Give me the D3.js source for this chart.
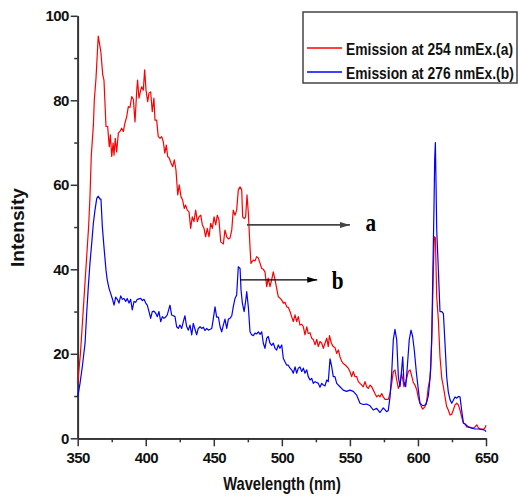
<!DOCTYPE html>
<html>
<head>
<meta charset="utf-8">
<script src="https://cdn.jsdelivr.net/npm/d3@7/dist/d3.min.js"></script>
<style>
  body { margin: 0; background: #fff; }
  text { font-family: "Liberation Sans", Arial, sans-serif; font-weight: bold; }
</style>
</head>
<body>
<svg id="chart" width="519" height="498"></svg>
<script>
// ===== data =====
const redWavelength = [350,352,354,356,358,359,360,361.5,362.2,363.4,365.1,367,368.4,369.3,370.8,372,373.2,374,375,376,376.7,377.6,378.6,379.9,381,382.3,383.5,384.7,386,387.2,388.4,389.7,390.9,392.1,393.4,394,395,396.3,397,398.2,399.2,400.2,401.4,402.4,403.6,404.8,406,406.8,408,409.2,410.5,411.7,412.9,414,415.1,416.1,417.3,418.6,419.8,421,422.2,423.5,424.6,425.9,427.1,428.3,429.3,430.5,431.8,433,434.2,435.4,436.7,437.9,439.1,440.4,441.6,442.8,444,445.2,446.5,447.7,448.9,450.2,451.4,452.6,453.8,455.1,456.2,457,458.2,459.5,460.7,461.9,463.2,464.3,465.6,466.8,468,469.3,470.5,471.2,472.4,473.4,474.4,475.4,476.6,477.3,479,480.3,481.5,482.7,484,485.2,486.4,487.6,488.9,490,491.3,492.5,493.7,495,496.2,497.4,498.6,499.9,501.1,502.3,503.6,504.7,506,507.2,508.4,509.7,510.9,512.1,513.3,514.6,515.8,517,518.3,519.4,520.7,521.9,523.1,524.4,525.6,526.8,528,529.3,530.5,531.7,533,534.1,535,536.4,537.8,539,540.3,541.5,542.7,544,545.1,546.4,547.6,548.8,550,551.3,552.5,553.7,555,556.2,557.4,558.7,559.8,561.1,562.3,563.5,564.8,566,567.2,568.4,569.7,570.9,572.1,573.4,574.5,575.8,577,578.2,579.5,580.7,581.9,583.1,584.4,585.6,586.8,588,588.8,589.7,591.2,592.9,594.2,595.4,596.6,597.8,599.1,600.3,601.5,602.5,603.5,605.2,606.4,607.6,608.9,610.1,611.3,612,612.8,613.8,615,616.2,617.5,618.7,619.9,621.1,622.3,623.6,624.8,626,627.2,628.5,629.7,630.9,632.1,633.4,634.6,635.8,638.3,640.7,641.9,643.2,644.4,645.6,646.9,648,649.3,650];
const redIntensity = [13,20,30,40,50,57,67,74,80,85,95.2,91.5,86,84.8,73.8,73.8,69,71.8,66.7,69.9,67,71,67.8,72.3,72.6,73.4,72.6,74.6,76.1,78.5,78.3,80.9,80.2,74.9,82.4,84.8,80.5,82.4,83.2,82.4,87.2,82.4,79.7,81.7,82,77.3,80.5,75.3,75.3,71.4,71,71.4,70.2,67.5,69.4,66.7,66.3,65.1,64.3,65.9,63.5,57.6,60,57.2,56.4,54.4,55.2,54,53.6,49.7,52.4,51.3,54,51.3,52.4,52.8,50.5,49.7,47.7,49.7,47.7,50.9,49.7,52.4,50.5,52.8,51.7,46.5,46.2,46,49.3,47.7,47.2,47.4,49.3,54,52.8,54,58.8,59.5,58.8,52.4,52,52.4,57.6,53.2,45.3,41.4,42.2,42,43,42.7,41.4,40.2,40,39.4,35.9,37.9,35.9,37.5,39.4,37.5,35.5,33.5,33.2,32.7,32,32.2,31.1,31,30,28.8,27.6,29.2,27.6,28.8,26.8,27,26.4,24.5,26.4,24.8,25,23.7,23.4,22.1,23.4,21.7,22.9,22.5,21.3,22.5,23.7,21.7,24.3,22.5,21.7,21.5,20.1,20.9,19.3,18.2,17.7,17.4,17,16.6,15.8,14.6,15.8,14.6,14.6,13.4,13,12.6,12.2,13.4,12.2,11.8,12.6,12.2,11.4,10.6,9.8,10.2,9.8,10.6,9.8,9.2,9.2,9.2,10.6,13,15.8,16.2,13.8,11.8,12.8,15.4,14,12.2,13.5,15.8,16.2,14.8,13.2,12.6,11.5,9.5,8.3,7.5,6.9,7.5,8.7,12.2,14.2,22.5,39.8,47.7,47.5,33.5,28,19.3,14.2,12.2,9.8,7.5,6.7,5.5,5.7,6.7,7.9,8.3,7.9,6.7,5.1,3.6,3.4,2.7,2.6,2.4,2.7,3.2,2.5,2.2,2.2,2.1,2.5,3.1];

const blueWavelength = [350,351.7,353.4,355.4,356.6,357.8,359,360.3,361.5,362.7,364,365.1,366.4,367.1,368.1,369.3,370.8,371.7,373,374.2,375.4,376.7,377.9,379.1,380.3,381.6,382.8,384,385.3,386.4,387.7,388.9,390.1,391.4,392.6,393.8,395,396.3,397.5,398.7,400,401.1,402.4,403.6,404.8,406,407.3,408.5,409.7,411,412.2,413.4,414.6,415.8,417.8,419,420.3,421.5,422.7,423.9,425.1,426.4,427.6,428.8,430,431.3,432.5,433.8,434.9,436.2,437.4,438.6,439.9,441.1,442.3,443.5,444.8,446,447.3,448.5,449.6,450.9,452.1,453.4,454.6,455.8,457,458.2,459.5,460.7,461.9,463.2,464.3,465.6,466.8,468,469.3,470,471,472.3,473.5,474.2,475.4,476.6,477.8,479,480.3,481.5,482.7,484,485.2,486.4,487.6,488.9,490,491.3,492.5,493.7,495,496.2,497.4,498.6,499.9,501.1,502.3,503.6,504.7,506,507.2,508.4,509.7,510.9,512.1,513.3,514.6,515.8,517,518.3,519.4,520.7,521.9,523.1,524.4,525.6,526.8,528,529.3,530.5,531.7,533,534.1,535.4,536.6,537.8,539,540.3,542.7,545.1,547.6,550,552.5,555,557.4,559.8,562.3,564.8,567.2,569.7,572.1,574.5,577,578.2,579.5,580.7,581.9,583.1,584.4,585.6,586.8,588,588.8,589.7,591,592.2,593.6,594.9,596.1,597.3,598.9,600.3,601.5,602.8,604,605.9,607.6,608.3,609.4,610.2,611,611.8,612.3,612.8,613.3,613.8,615,616.2,617.5,618.7,620,621.1,622.3,623.6,624.8,626,627.2,628.5,629.7,630.9,632.1,633.4,634.6,637,639.5,641.9,644.4,646.9,649.3,650];
const blueIntensity = [9.8,13,17,22.5,29.6,35.9,41.4,46.2,50.9,54,56.8,57.3,56.6,56.6,50.1,45.3,39.8,37.5,35.5,34.3,33.1,31.5,33.4,32.9,32,33.7,32.9,33.1,32.4,33.1,32,32.9,30.4,32.4,32.2,32.9,33,33.1,32.6,32.9,32,31.5,30,28.4,30,30.1,29.6,28.8,30,27.6,28.8,28.4,28.7,29.2,31.5,29.2,29,28.8,26.4,26,26.8,26,27.6,29,26.5,25.6,26.8,24.5,27.2,25.8,24.5,26,26.4,26,26.3,25.5,26,25.6,25.8,26,28.2,31.1,28.7,28.7,26.4,25.2,26.8,28.2,26,28.2,28.4,29,31.1,33.1,33.9,40.6,40.2,35.1,32,30,32.7,34.7,31,25.2,24.5,24.3,24.9,24.7,25.2,24.6,25.2,22.5,21.3,23.7,24.1,22.5,22,22.5,21.3,20.9,22.1,21.3,22.1,18.9,18.1,17.3,17.3,16.6,16.2,15.4,16.9,15.4,16.6,16.9,15.8,16.6,15.4,16.2,14.6,13.8,14.2,13,13.4,13.2,13,12.1,13,12.6,12.4,13.8,13.4,18.8,17,14.6,14.6,13,12.2,11.4,11.1,11.4,11.1,10.2,8.3,8,8.1,7.7,6.7,7.1,6.1,7.2,6.3,6.6,9.8,15.4,23.3,25.8,23.3,14.6,12.2,16.2,19.3,13.4,12.2,17,23.3,25.6,24.1,20.9,15.4,11.4,8.3,7.9,7.7,8,10,12.2,16.5,25,40,55,66,70,60,49.3,39.8,30,30,29.5,21.7,14.6,11,9.1,8.3,9,9.8,9.5,9.9,9.8,6.7,3.6,3.4,2.7,2.4,2.2,2.2,2.1,1.9,1.6];

const xTicks = [350, 400, 450, 500, 550, 600, 650];
const xMinorTicks = [375, 425, 475, 525, 575, 625];
const yTicks = [0, 20, 40, 60, 80, 100];
const yMinorTicks = [10, 30, 50, 70, 90];

const seriesLabels = ['Emission at 254 nmEx.(a)', 'Emission at 276 nmEx.(b)'];
const seriesColors = ['#ff0000', '#0000ff'];

// arrow annotations (wavelength / intensity units)
const annotations = [
  { from: 474.4, to: 550, at: 50.5, label: 'a', labelX: 561.4, labelY: 49.1, color: '#444', width: 1.8 },
  { from: 469.3, to: 526, at: 37.5, label: 'b', labelX: 536.6, labelY: 35.3, color: '#000', width: 1.3 }
];

// ===== chart =====
const svg = d3.select('#chart');

const x = d3.scaleLinear().domain([350, 650]).range([77.7, 486]);
const y = d3.scaleLinear().domain([0, 100]).range([438.3, 15.8]);

// the original's lettering is squeezed sideways
const squeeze = 0.815;

// axes
const axisColor = '#333';

function styleAxis(g) {
  g.select('.domain').attr('stroke', axisColor).attr('stroke-width', 1.7);
  g.selectAll('.tick line').attr('stroke', axisColor).attr('stroke-width', 1.5);
  g.selectAll('.tick text')
    .attr('fill', '#111')
    .style('font-size', '15px')
    .style('letter-spacing', '-0.6px');
}

svg.append('g')
  .attr('transform', `translate(0,${y(0)})`)
  .call(d3.axisBottom(x).tickValues(xMinorTicks).tickSize(4).tickSizeOuter(0).tickFormat(''))
  .call(styleAxis);

svg.append('g')
  .attr('transform', `translate(0,${y(0)})`)
  .call(d3.axisBottom(x).tickValues(xTicks).tickSize(8).tickPadding(6).tickSizeOuter(0).tickFormat(d3.format('d')))
  .call(styleAxis);

svg.append('g')
  .attr('transform', `translate(${x(350)},0)`)
  .call(d3.axisLeft(y).tickValues(yMinorTicks).tickSize(3.5).tickSizeOuter(0).tickFormat(''))
  .call(styleAxis);

svg.append('g')
  .attr('transform', `translate(${x(350)},0)`)
  .call(d3.axisLeft(y).tickValues(yTicks).tickSize(7).tickPadding(2).tickSizeOuter(0).tickFormat(d3.format('d')))
  .call(styleAxis);

// axis titles
svg.append('text')
  .attr('transform', `translate(282,490) scale(${squeeze},1)`)
  .attr('text-anchor', 'middle')
  .style('font-size', '18px')
  .attr('fill', '#111')
  .text('Wavelength (nm)');

svg.append('text')
  .attr('transform', 'translate(24,227.5) scale(1,1.07) rotate(-90)')
  .attr('text-anchor', 'middle')
  .style('font-size', '18px')
  .attr('fill', '#111')
  .text('Intensity');

// spectra
const line = d3.line().x(d => x(d[0])).y(d => y(d[1]));

const series = [
  d3.zip(redWavelength, redIntensity),
  d3.zip(blueWavelength, blueIntensity)
];

svg.selectAll('path.spectrum')
  .data(series)
  .join('path')
  .attr('class', 'spectrum')
  .attr('fill', 'none')
  .attr('stroke', (d, i) => seriesColors[i])
  .attr('stroke-width', 1.2)
  .attr('stroke-linejoin', 'round')
  .attr('d', line);

// arrows
svg.append('defs').selectAll('marker')
  .data(annotations)
  .join('marker')
  .attr('id', (d, i) => `arrow${i}`)
  .attr('viewBox', '0 0 10 6')
  .attr('refX', 10).attr('refY', 3)
  .attr('markerWidth', 10).attr('markerHeight', 6)
  .attr('markerUnits', 'userSpaceOnUse')
  .attr('orient', 'auto')
  .append('path')
  .attr('d', 'M0,0 L10,3 L0,6 Z')
  .attr('fill', d => d.color);

annotations.forEach((a, i) => {
  svg.append('line')
    .attr('x1', x(a.from)).attr('x2', x(a.to))
    .attr('y1', y(a.at)).attr('y2', y(a.at))
    .attr('stroke', a.color)
    .attr('stroke-width', a.width)
    .attr('marker-end', `url(#arrow${i})`);

  svg.append('text')
    .attr('transform', `translate(${x(a.labelX)},${y(a.labelY)}) scale(${squeeze},1)`)
    .style('font-family', '"Liberation Serif", "Times New Roman", serif')
    .style('font-size', '26px')
    .attr('fill', '#000')
    .text(a.label);
});

// legend
const legend = svg.append('g');

legend.append('rect')
  .attr('x', 303).attr('y', 12)
  .attr('width', 214).attr('height', 71)
  .attr('fill', '#fff')
  .attr('stroke', '#444')
  .attr('stroke-width', 1.5);

seriesLabels.forEach((label, i) => {
  const ly = 48 + i * 24;
  legend.append('line')
    .attr('x1', 307).attr('x2', 342)
    .attr('y1', ly).attr('y2', ly)
    .attr('stroke', seriesColors[i])
    .attr('stroke-width', 1.3);

  legend.append('text')
    .attr('transform', `translate(346,${ly + 6.5}) scale(${squeeze},1)`)
    .style('font-size', '17px')
    .attr('fill', '#111')
    .text(label);
});
</script>
</body>
</html>
